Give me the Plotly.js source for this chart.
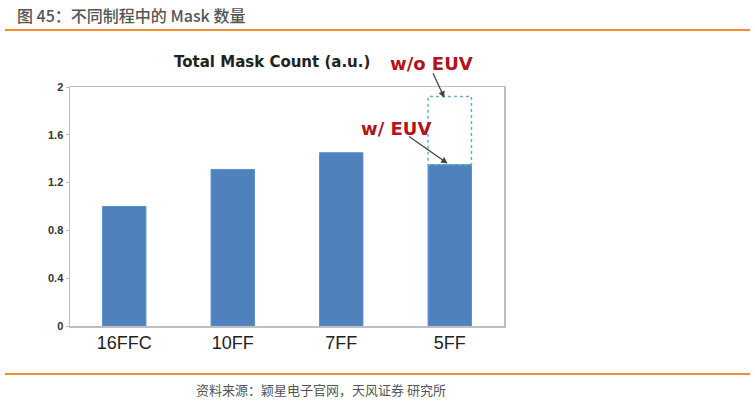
<!DOCTYPE html>
<html><head><meta charset="utf-8">
<script src="https://cdn.plot.ly/plotly-3.0.1.min.js"></script>
<style>
html,body{margin:0;padding:0;background:#fff;}
#wrap{position:relative;width:755px;height:403px;overflow:hidden;}
#hdr{position:absolute;left:17px;top:3px;font-family:"Noto Sans CJK SC","Noto Sans",sans-serif;font-size:16px;color:#555;font-weight:500;white-space:nowrap;}
#l1{position:absolute;left:5px;right:5px;top:29px;height:2px;background:#f28e2b;}
#l2{position:absolute;left:5px;right:5px;top:373px;height:2px;background:#f28e2b;}
#src{position:absolute;left:196px;top:380px;font-family:"Noto Sans CJK SC",sans-serif;font-size:13px;color:#555;white-space:nowrap;}
#chart{position:absolute;left:0;top:0;width:755px;height:403px;}
</style></head>
<body><div id="wrap">
<div id="chart"></div>
<div id="hdr">图 45：不同制程中的 Mask 数量</div>
<div id="l1"></div>
<div id="l2"></div>
<div id="src">资料来源：颖星电子官网，天风证券 研究所</div>
</div>
<script>
var categories = ["16FFC", "10FF", "7FF", "5FF"];
var withEUV = [1.0, 1.31, 1.45, 1.35];
var withoutEUV5FF = 1.92;
var yTicks = [0, 0.4, 0.8, 1.2, 1.6, 2];
var yTickLabels = ["0", "0.4", "0.8", "1.2", "1.6", "2"];

var idx5 = categories.indexOf("5FF");
var barW = 0.4;

var trace = {
  type: "bar", x: categories, y: withEUV, width: barW,
  marker: {color: "#4f81bd", line: {color: "#5b8fd0", width: 1}},
  hoverinfo: "none"
};

var layout = {
  width: 755, height: 403,
  margin: {l: 70, r: 251, t: 87, b: 77},
  paper_bgcolor: "rgba(0,0,0,0)", plot_bgcolor: "#fff",
  showlegend: false, bargap: 0.6,
  xaxis: {
    type: "category", showgrid: false, zeroline: false,
    showline: true, mirror: true, linecolor: "#bfbfbf", linewidth: 1.5,
    ticks: "", tickfont: {family: "Liberation Sans, Arial", size: 18, color: "#222"},
    range: [-0.5, 3.5]
  },
  yaxis: {
    range: [0, 2], tickvals: yTicks, ticktext: yTickLabels,
    showgrid: false, zeroline: false,
    showline: true, mirror: true, linecolor: "#bfbfbf", linewidth: 1.5,
    ticks: "outside", ticklen: 3, tickcolor: "#bfbfbf",
    tickfont: {family: "Liberation Sans, Arial", size: 11, color: "#333", weight: "bold"}
  },
  shapes: [{
    type: "rect", xref: "x", yref: "y",
    x0: idx5 - barW/2, x1: idx5 + barW/2,
    y0: withEUV[idx5], y1: withoutEUV5FF,
    line: {color: "#5fb3c6", width: 1.5, dash: "dot"}, fillcolor: "rgba(0,0,0,0)"
  }],
  annotations: [
    {xref: "paper", yref: "paper", x: 0.465, y: 1.105, xanchor: "center", yanchor: "middle", text: "<b>Total Mask Count (a.u.)</b>",
     showarrow: false, font: {family: "DejaVu Sans", size: 15, color: "#222"}},
    {xref: "paper", yref: "paper", x: 0.832, y: 1.100, xanchor: "center", yanchor: "middle", text: "<b>w/o EUV</b>",
     showarrow: false, font: {family: "DejaVu Sans", size: 18, color: "#b5121b"}},
    {xref: "paper", yref: "paper", x: 0.751, y: 0.828, xanchor: "center", yanchor: "middle", text: "<b>w/ EUV</b>",
     showarrow: false, font: {family: "DejaVu Sans", size: 18, color: "#b5121b"}},
    {xref: "x", yref: "y", x: idx5 - 0.05, y: withoutEUV5FF - 0.01, ax: -12, ay: -26, text: "",
     showarrow: true, arrowhead: 2, arrowsize: 1, arrowwidth: 1.3, arrowcolor: "#444"},
    {xref: "x", yref: "y", x: idx5 - 0.02, y: withEUV[idx5] + 0.01, ax: -40, ay: -28, text: "",
     showarrow: true, arrowhead: 2, arrowsize: 1, arrowwidth: 1.3, arrowcolor: "#444"}
  ]
};
Plotly.newPlot("chart", [trace], layout, {displayModeBar: false, staticPlot: true});
</script>
</body></html>
